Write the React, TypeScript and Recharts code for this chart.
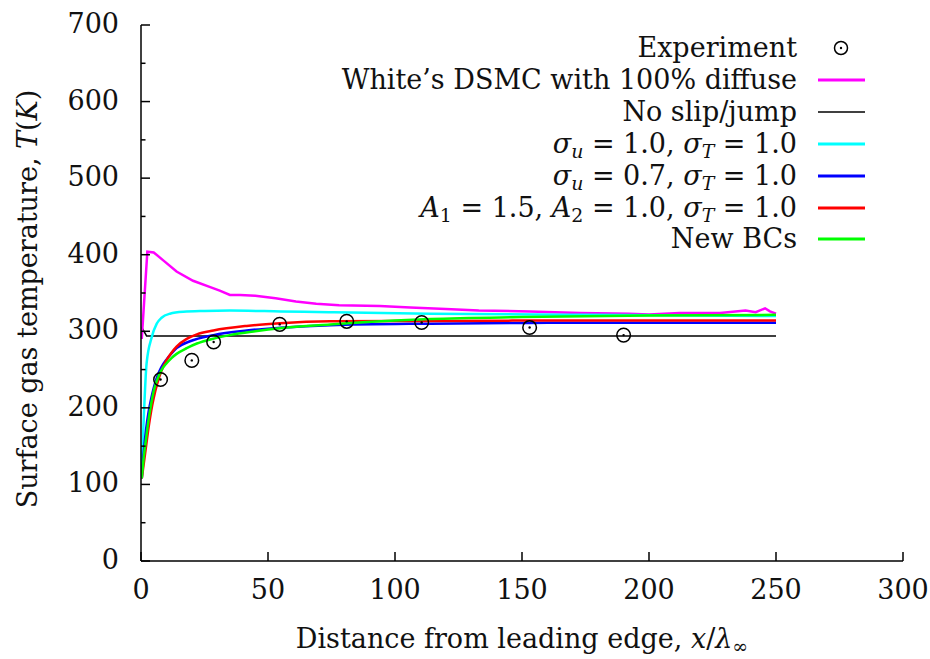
import React from 'react';
import { ComposedChart, Line, Scatter, XAxis, YAxis, Legend } from 'recharts';

const FONT = '"DejaVu Serif", "Liberation Serif", serif';

// ---- data ----
const expX = [7.7, 20, 28.6, 54.6, 81, 110.5, 153, 190];
const expT = [237, 262, 286, 309, 313, 311.5, 305, 295];

const whiteX = [0.3, 2.5, 5, 9, 14, 20.5, 27, 31, 35, 39, 45, 53, 61, 69, 78, 94, 106, 120, 133, 153, 173, 192, 200, 212, 228, 238, 242, 245.7, 247.6, 250];
const whiteT = [290, 404, 403, 392, 378, 366, 358, 353, 347.5, 347.5, 346.5, 343, 339, 336, 334, 333, 331, 329, 327, 326, 324, 323, 322, 324, 324, 327, 325, 330, 326, 323];

const noSlipX = [0.3, 2.2, 250];
const noSlipT = [305, 294, 294];

const cyanX = [0.3, 0.9, 2.2, 4.2, 6.2, 8.1, 11.4, 16.7, 25, 35, 55, 74, 114, 173, 250];
const cyanT = [120, 171, 258, 292, 310, 317.7, 323, 325.5, 326.5, 327, 326, 325, 323, 321.6, 320];

const blueX = [0.3, 1, 2, 3, 4, 5, 6.5, 8, 10, 12, 14, 19.3, 28.5, 41.6, 54.7, 74.4, 114, 160, 250];
const blueT = [108, 140, 172, 195, 212, 226, 242, 253, 263, 271, 278, 287, 295, 301, 304.6, 308, 310, 311, 311];

const redX = [0.3, 1, 2, 3, 4, 5, 6.5, 8, 10, 12, 14, 18, 22, 28.5, 41.6, 54.7, 74.4, 114, 160, 250];
const redT = [108, 125, 150, 175, 196, 213, 233, 248, 262, 272, 280, 290, 296, 301, 307, 310.5, 313, 313.5, 314, 314];

const greenX = [0.3, 1, 2, 3, 4, 5, 6.5, 8, 10, 12, 14, 18, 22, 28, 35, 45, 54.7, 74.4, 100, 114, 150, 200, 250];
const greenT = [108, 133, 160, 185, 205, 222, 238, 249, 258, 265, 270.5, 278, 284, 290, 295, 300, 304, 309, 314, 316, 318.5, 320.5, 321.5];

const xTicks = [0, 50, 100, 150, 200, 250, 300];
const yTicks = [0, 50, 100, 150, 200, 250, 300, 350, 400, 450, 500, 550, 600, 650, 700];

const zip = (xs: number[], ts: number[]) => xs.map((x, i) => ({ x, T: ts[i] }));

const expData = zip(expX, expT);
const whiteData = zip(whiteX, whiteT);
const noSlipData = zip(noSlipX, noSlipT);
const cyanData = zip(cyanX, cyanT);
const blueData = zip(blueX, blueT);
const redData = zip(redX, redT);
const greenData = zip(greenX, greenT);

const W = 930;
const H = 659;
const FS = 27;

const Sub = ({ children }: { children: React.ReactNode }) => (
  <span style={{ fontSize: '0.7em', verticalAlign: '-0.25em', lineHeight: 0 }}>{children}</span>
);

const legendItems: { label: React.ReactNode; color: string; kind: 'circle' | 'line'; width?: number }[] = [
  { label: 'Experiment', color: '#000', kind: 'circle' },
  { label: 'White\u2019s DSMC with 100% diffuse', color: '#ff00ff', kind: 'line', width: 3 },
  { label: 'No slip/jump', color: '#000', kind: 'line', width: 1.5 },
  {
    label: (
      <>
        <i>σ</i><Sub><i>u</i></Sub> = 1.0, <i>σ</i><Sub><i>T</i></Sub> = 1.0
      </>
    ),
    color: '#00ffff',
    kind: 'line',
    width: 3,
  },
  {
    label: (
      <>
        <i>σ</i><Sub><i>u</i></Sub> = 0.7, <i>σ</i><Sub><i>T</i></Sub> = 1.0
      </>
    ),
    color: '#0000ff',
    kind: 'line',
    width: 3,
  },
  {
    label: (
      <>
        <i>A</i><Sub>1</Sub> = 1.5, <i>A</i><Sub>2</Sub> = 1.0, <i>σ</i><Sub><i>T</i></Sub> = 1.0
      </>
    ),
    color: '#ff0000',
    kind: 'line',
    width: 3,
  },
  { label: 'New BCs', color: '#00ff00', kind: 'line', width: 3 },
];

const LegendContent = () => {
  const top0 = 48.3;
  const step = 31.85;
  return (
    <div style={{ position: 'relative', width: W, height: 260, fontFamily: FONT, fontSize: FS, color: '#111' }}>
      {legendItems.map((it, i) => {
        const cy = top0 + i * step;
        return (
          <div key={i} style={{ position: 'absolute', left: 0, top: cy - 16, width: W, height: 32 }}>
            <div style={{ position: 'absolute', left: 0, top: 0, width: 797, height: 32, lineHeight: '32px', textAlign: 'right', whiteSpace: 'nowrap' }}>
              {it.label}
            </div>
            <svg style={{ position: 'absolute', left: 816, top: 0 }} width={52} height={32}>
              {it.kind === 'circle' ? (
                <g>
                  <circle cx={25} cy={16} r={6.5} fill="none" stroke="#000" strokeWidth={1.5} />
                  <circle cx={25} cy={16} r={1.2} fill="#000" />
                </g>
              ) : (
                <line x1={2} x2={49} y1={16} y2={16} stroke={it.color} strokeWidth={it.width} />
              )}
            </svg>
          </div>
        );
      })}
    </div>
  );
};

const BottomTick = (props: any) => {
  const { x, y, payload } = props;
  return (
    <g>
      <line x1={x} x2={x} y1={y} y2={y - 9} stroke="#000" strokeWidth={1.5} />
      <text x={x} y={y + 38} textAnchor="middle" fontFamily={FONT} fontSize={FS} fill="#111">
        {payload.value}
      </text>
    </g>
  );
};

const TopTick = (props: any) => {
  const { x, y } = props;
  return <line x1={x} x2={x} y1={y} y2={y + 9} stroke="#000" strokeWidth={1.5} />;
};

const LeftTick = (props: any) => {
  const { x, y, payload } = props;
  const major = payload.value % 100 === 0;
  return (
    <g>
      <line x1={x} x2={x + (major ? 9 : 4.5)} y1={y} y2={y} stroke="#000" strokeWidth={1.5} />
      {major && (
        <text x={x - 22} y={y + 8} textAnchor="end" fontFamily={FONT} fontSize={FS} fill="#111">
          {payload.value}
        </text>
      )}
    </g>
  );
};

const RightTick = (props: any) => {
  const { x, y, payload } = props;
  const major = payload.value % 100 === 0;
  return <line x1={x} x2={x - (major ? 9 : 4.5)} y1={y} y2={y} stroke="#000" strokeWidth={1.5} />;
};

const XTitle = () => (
  <text x={522} y={648} textAnchor="middle" fontFamily={FONT} fontSize={FS} fill="#111">
    Distance from leading edge, <tspan fontStyle="italic">x</tspan>/<tspan fontStyle="italic">λ</tspan>
    <tspan fontSize={19} dy={5}>∞</tspan>
  </text>
);

const YTitle = () => (
  <text
    x={37}
    y={299}
    transform="rotate(-90, 37, 299)"
    textAnchor="middle"
    fontFamily={FONT}
    fontSize={FS}
    fill="#111"
  >
    Surface gas temperature, <tspan fontStyle="italic">T</tspan>(<tspan fontStyle="italic">K</tspan>)
  </text>
);

const ExpMarker = (props: any) => {
  const { cx, cy } = props;
  return (
    <g>
      <circle cx={cx} cy={cy} r={6.8} fill="none" stroke="#000" strokeWidth={1.5} />
      <circle cx={cx} cy={cy} r={1.2} fill="#000" />
    </g>
  );
};

export default function App() {
  const axisLine = { stroke: '#000', strokeWidth: 1.5 };
  return (
    <div style={{ position: 'absolute', left: 0, top: 0, width: W, height: H, background: '#fff' }}>
      <ComposedChart width={W} height={H} margin={{ top: 25, right: 27, left: 0, bottom: 0 }}>
        <XAxis
          xAxisId="b"
          type="number"
          dataKey="x"
          domain={[0, 300]}
          ticks={xTicks}
          interval={0}
          allowDataOverflow
          height={98}
          tickSize={0}
          tickMargin={0}
          axisLine={axisLine}
          tickLine={false}
          tick={<BottomTick />}
          label={<XTitle />}
        />
        <XAxis
          xAxisId="t"
          orientation="top"
          type="number"
          dataKey="x"
          domain={[0, 300]}
          ticks={xTicks}
          interval={0}
          allowDataOverflow
          height={0}
          tickSize={0}
          tickMargin={0}
          axisLine={axisLine}
          tickLine={false}
          tick={<TopTick />}
        />
        <YAxis
          yAxisId="l"
          type="number"
          dataKey="T"
          domain={[0, 700]}
          ticks={yTicks}
          interval={0}
          allowDataOverflow
          width={141}
          tickSize={0}
          tickMargin={0}
          axisLine={axisLine}
          tickLine={false}
          tick={<LeftTick />}
          label={<YTitle />}
        />
        <YAxis
          yAxisId="r"
          orientation="right"
          type="number"
          dataKey="T"
          domain={[0, 700]}
          ticks={yTicks}
          interval={0}
          allowDataOverflow
          width={0}
          tickSize={0}
          tickMargin={0}
          axisLine={axisLine}
          tickLine={false}
          tick={<RightTick />}
        />
        <Line xAxisId="b" yAxisId="l" data={noSlipData} dataKey="T" type="linear" stroke="#000" strokeWidth={1.5} dot={false} isAnimationActive={false} name="No slip/jump" />
        <Line xAxisId="b" yAxisId="l" data={whiteData} dataKey="T" type="linear" stroke="#ff00ff" strokeWidth={2.5} dot={false} isAnimationActive={false} name="White's DSMC" />
        <Line xAxisId="b" yAxisId="l" data={cyanData} dataKey="T" type="monotone" stroke="#00ffff" strokeWidth={2.5} dot={false} isAnimationActive={false} name="cyan" />
        <Line xAxisId="b" yAxisId="l" data={blueData} dataKey="T" type="monotone" stroke="#0000ff" strokeWidth={2.5} dot={false} isAnimationActive={false} name="blue" />
        <Line xAxisId="b" yAxisId="l" data={redData} dataKey="T" type="monotone" stroke="#ff0000" strokeWidth={2.5} dot={false} isAnimationActive={false} name="red" />
        <Line xAxisId="b" yAxisId="l" data={greenData} dataKey="T" type="monotone" stroke="#00ff00" strokeWidth={2.5} dot={false} isAnimationActive={false} name="green" />
        <Scatter xAxisId="b" yAxisId="l" data={expData} dataKey="T" shape={<ExpMarker />} isAnimationActive={false} name="Experiment" />
        <Legend
          layout="vertical"
          align="center"
          verticalAlign="middle"
          content={<LegendContent />}
          wrapperStyle={{ position: 'absolute', left: 0, top: 0, width: W, height: 260, pointerEvents: 'none' }}
        />
      </ComposedChart>
    </div>
  );
}
